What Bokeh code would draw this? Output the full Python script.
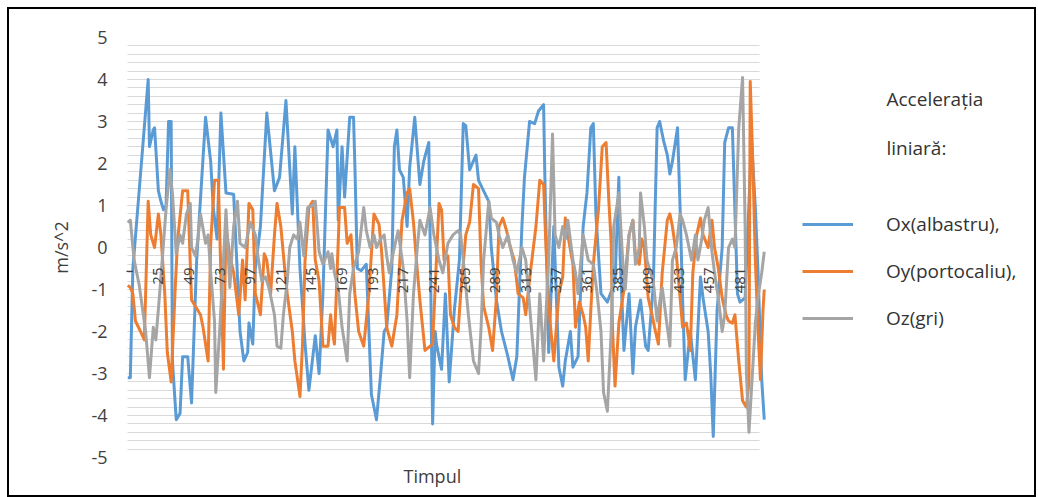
import math
from bokeh.plotting import figure
from bokeh.models import (Range1d, SingleIntervalTicker, Legend, LegendItem, Label,
                          Title)
from bokeh.core.properties import value
from bokeh.embed import file_html
from bokeh.resources import INLINE

# ---------------- data ----------------
x_tick_labels = [1, 25, 49, 73, 97, 121, 145, 169, 193, 217, 241, 265, 289,
                 313, 337, 361, 385, 409, 433, 457, 481]
y_tick_labels = [-5, -4, -3, -2, -1, 0, 1, 2, 3, 4, 5]

ox_idx = [1, 3, 5, 9, 13, 17, 18, 21, 22, 25, 27, 29, 31, 33, 35, 36, 39, 42, 44, 48,
          51, 55, 62, 66, 68, 71, 74, 78, 84, 89, 92, 95, 96, 99, 101, 105, 110, 116,
          120, 125, 130, 132, 136, 140, 143, 148, 151, 154, 158, 162, 165, 166, 169,
          171, 175, 178, 179, 181, 184, 188, 192, 196, 199, 202, 204, 208, 210, 212,
          214, 217, 220, 222, 226, 230, 233, 237, 240, 242, 243, 247, 250, 253, 257,
          261, 264, 266, 269, 274, 276, 284, 286, 290, 294, 299, 303, 306, 310, 312,
          316, 320, 323, 327, 328, 331, 335, 339, 342, 344, 348, 350, 354, 358, 361,
          364, 366, 368, 372, 377, 383, 386, 387, 390, 394, 397, 399, 403, 407, 409,
          413, 416, 418, 421, 424, 426, 428, 432, 434, 436, 438, 442, 446, 450, 452,
          456, 458, 460, 463, 467, 469, 472, 475, 476, 479, 481, 485, 490, 493, 495,
          498, 500]
ox_val = [-3.1, -3.1, -0.5, 1.0, 2.5, 4.0, 2.4, 2.8, 2.85, 1.35, 1.1, 0.9, 1.0, 3.0, 3.0,
          -2.7, -4.1, -3.95, -2.6, -2.6, -3.7, -0.3, 3.1, 2.05, 0.95, 0.2, 3.2, 1.3,
          1.27, -2.0, -2.7, -2.5, -1.8, -2.3, -0.5, 0.5, 3.2, 1.35, 1.67, 3.5, 0.8,
          2.4, -0.5, -2.3, -3.4, -2.1, -3.0, -1.1, 2.8, 2.4, 2.8, 0.65, 2.4, 1.2, 3.1,
          3.1, 2.0, -0.5, -0.55, -0.4, -3.5, -4.1, -3.1, -2.0, -1.9, -0.5, 2.4, 2.8,
          1.85, 1.67, 0.5, 1.9, 3.1, 1.5, 2.05, 2.5, -4.2, -2.0, -2.3, -2.9, -1.1,
          -3.2, -1.5, -0.3, 2.95, 2.9, 1.85, 2.2, 1.6, 1.1, 0.0, -1.25, -2.0, -2.6,
          -3.15, -2.6, 0.5, 1.67, 3.0, 2.95, 3.25, 3.4, 1.67, -2.5, 0.5, -2.85, -3.3,
          -2.7, -2.0, -2.85, -2.6, 0.5, 1.3, 2.85, 2.95, 0.8, -1.1, -1.3, -0.8, 1.67,
          -0.2, -2.45, -1.1, -3.0, -1.9, -1.25, -2.35, -2.45, -0.9, 2.85, 3.0, 2.55,
          2.2, 1.75, 2.05, 2.85, 0.95, -1.25, -3.15, -2.0, -3.15, -0.7, -1.2, -2.0,
          -3.0, -4.5, -1.5, 0.0, 2.5, 2.85, 2.85, 1.85, -1.1, -1.3, -1.2, 2.55, 0.95,
          -0.5, -3.15, -4.1]

oy_idx = [1, 3, 5, 7, 11, 14, 17, 19, 22, 25, 27, 30, 32, 35, 38, 40, 44, 48, 51, 54,
          58, 60, 64, 66, 69, 72, 76, 78, 81, 84, 88, 91, 93, 96, 99, 101, 105, 108,
          110, 113, 116, 118, 121, 124, 126, 130, 132, 136, 138, 140, 143, 146, 148,
          151, 154, 158, 160, 161, 163, 167, 171, 173, 176, 179, 182, 186, 190, 194,
          198, 200, 204, 208, 212, 216, 220, 222, 225, 227, 230, 234, 238, 240, 245,
          247, 249, 252, 254, 257, 260, 262, 266, 269, 272, 276, 278, 280, 284, 287,
          290, 292, 295, 298, 300, 304, 307, 311, 313, 317, 321, 324, 327, 329, 332,
          335, 339, 342, 344, 346, 350, 352, 355, 358, 360, 362, 364, 366, 370, 373,
          376, 378, 380, 381, 383, 386, 390, 394, 397, 399, 402, 404, 406, 409, 412,
          414, 417, 420, 424, 426, 428, 431, 434, 436, 439, 442, 444, 447, 450, 452,
          456, 459, 461, 464, 467, 470, 472, 475, 477, 480, 483, 486, 488, 489, 491,
          493, 495, 497, 499, 500]
oy_val = [-0.9, -0.95, -1.1, -1.75, -2.0, -2.2, 1.1, 0.3, 0.0, 0.8, 0.3, -1.1, -2.5,
          -3.2, -1.1, 0.15, 1.35, 1.35, -1.25, -1.4, -1.6, -1.9, -2.7, 0.1, 1.6, 1.6,
          -2.9, 0.5, -0.2, -0.6, -1.6, -0.3, -1.25, 1.05, 0.9, -1.1, -1.6, -0.15,
          -0.3, -1.1, 0.3, 1.05, 0.5, -0.5, -1.1, -2.0, -2.7, -3.55, -2.3, -0.3,
          0.95, 1.1, -0.3, -0.8, -2.35, -2.35, -1.6, -1.9, -2.3, 0.95, 0.95, 0.1,
          0.3, -1.1, -2.0, -2.35, -1.1, 0.8, 0.55, -0.1, -1.9, -2.35, -1.6, 0.65,
          1.3, 1.4, 0.6, -0.2, -1.25, -2.45, -2.35, -2.3, 1.05, 0.9, -0.3, -0.2,
          -1.6, -1.9, -2.0, -1.1, 0.3, 0.6, 1.5, 1.4, -0.4, -1.4, -1.9, -2.45, -1.2,
          0.5, 0.7, 0.4, 0.1, -0.3, -1.1, -1.2, -1.6, -0.5, 0.5, 1.6, 1.5, -0.1,
          -1.75, -2.7, -1.1, -0.7, 0.7, 0.3, -0.4, -1.9, -1.3, -1.6, -1.9, -2.7,
          -1.5, -0.4, 0.9, 2.4, 2.5, 1.2, 0.1, -1.9, -3.3, -1.8, -1.0, 0.3, 0.65,
          -0.2, -0.4, 0.2, 0.0, -1.2, -1.6, -1.9, -2.3, -0.6, 0.65, 0.8, 0.5, -0.15,
          -1.2, -1.9, -1.8, -2.45, -0.6, 0.3, 0.7, 0.3, 0.0, 0.65, 0.0, -0.5, -1.2,
          -1.6, -1.75, -1.8, -1.6, -2.7, -3.65, -3.8, -3.2, 3.95, 2.05, -0.3, -1.9,
          -3.15, -1.5, -1.0]

oz_idx = [1, 3, 6, 10, 15, 18, 21, 23, 26, 29, 31, 34, 36, 39, 42, 44, 47, 50, 51, 54,
          56, 58, 62, 64, 66, 69, 70, 73, 76, 78, 81, 84, 87, 89, 93, 97, 101, 103,
          106, 109, 112, 116, 118, 121, 123, 126, 128, 131, 134, 136, 139, 142, 146,
          148, 151, 154, 158, 160, 161, 163, 166, 169, 173, 175, 178, 182, 186, 188,
          191, 194, 196, 199, 202, 204, 206, 210, 213, 217, 220, 222, 225, 228, 230,
          234, 238, 241, 243, 245, 248, 252, 256, 260, 262, 265, 268, 272, 276, 278,
          280, 284, 286, 290, 292, 295, 299, 303, 306, 310, 313, 317, 321, 324, 327,
          331, 334, 336, 339, 342, 344, 346, 350, 352, 354, 358, 360, 362, 366, 369,
          372, 374, 377, 380, 382, 386, 389, 391, 394, 397, 399, 402, 403, 406, 408,
          411, 413, 416, 418, 420, 424, 426, 428, 431, 434, 436, 439, 443, 446, 448,
          451, 453, 456, 459, 461, 464, 467, 469, 472, 475, 477, 480, 483, 485, 486,
          488, 491, 493, 495, 498, 500]
oz_val = [0.6, 0.65, -0.3, -0.9, -2.0, -3.1, -1.9, -2.2, -1.1, 0.1, 0.9, 1.85, 1.3,
          -0.15, 0.3, 0.1, 0.8, 1.05, 0.0, -0.2, 0.2, 0.8, 0.1, 0.3, -0.6, -1.75,
          -3.45, -2.0, -0.3, 0.9, -0.95, 0.5, 1.1, 0.1, 0.0, 0.6, 0.3, -0.2, -0.8,
          -0.7, -1.0, -1.6, -2.35, -2.4, -1.6, -0.8, 0.0, 0.3, 0.2, 0.6, -0.2, 0.95,
          1.0, 1.1, -0.1, -0.4, -0.1, -0.5, -0.15, -0.6, -1.0, -1.9, -2.7, -1.1,
          -0.5, -0.1, 0.95, 0.4, 0.0, 0.3, 0.0, 0.2, 0.3, -0.2, -0.6, 0.0, 0.4, -0.5,
          -1.75, -3.1, -1.1, 0.0, 0.65, 0.3, 0.95, 0.3, 0.0, -0.3, -0.6, 0.1, 0.3,
          0.4, 0.3, -0.6, -1.6, -2.7, -3.0, -1.9, -0.3, 1.1, 0.7, 0.6, 0.3, 0.0, 0.3,
          -0.3, -0.6, 0.0, -0.3, -1.75, -3.15, -1.1, -2.7, -0.3, 2.7, 0.3, 0.0, 0.5,
          0.2, 0.65, -0.3, -0.6, -1.1, 0.3, 0.0, -0.3, -0.4, -1.1, -2.0, -3.45, -3.9,
          -2.0, 0.5, 1.3, -0.3, -1.0, 0.3, 0.65, -0.4, 0.0, 1.3, 0.5, -0.3, -0.6,
          -0.8, -1.75, -1.3, -0.95, -1.9, -2.35, -0.3, 0.0, 0.8, 0.65, 0.3, -0.3,
          0.3, -0.3, 0.2, 0.65, 0.95, -0.1, -0.6, -1.2, -2.0, -1.6, 0.0, 0.2, 0.0,
          2.85, 4.05, 0.5, -3.0, -4.4, -2.85, -1.8, -1.2, -0.6, -0.1]

series_names = ["Ox(albastru),", "Oy(portocaliu),", "Oz(gri)"]
series_colors = ["#5B9BD5", "#ED7D31", "#A5A5A5"]
legend_title_lines = ["Accelerația", "liniară:"]
x_axis_title = "Timpul"
y_axis_title = "m/s^2"

FONT = "Open Sans"
TXT = "#404040"

p = figure(width=1029, height=490, x_range=Range1d(0, 715), y_range=Range1d(-5, 5),
           output_backend="svg", toolbar_location=None,
           min_border_left=117, min_border_right=0, min_border_top=28,
           min_border_bottom=42)
p.styles = {"border": "2px solid black", "margin-left": "7px", "margin-top": "7px",
            "box-sizing": "border-box"}
p.outline_line_color = None
p.background_fill_color = "white"
p.border_fill_color = "white"

# grid
p.xgrid.visible = False
p.yaxis.ticker = SingleIntervalTicker(interval=1, num_minor_ticks=5)
p.ygrid.grid_line_color = "#d9d9d9"
p.ygrid.minor_grid_line_color = "#d9d9d9"
p.ygrid.grid_line_width = 1
p.ygrid.minor_grid_line_width = 1
p.ygrid.cross_bounds = (0.5, 496)

# y axis
p.yaxis.axis_line_color = None
p.yaxis.major_tick_line_color = None
p.yaxis.minor_tick_line_color = None
p.yaxis.major_tick_out = 0
p.yaxis.minor_tick_out = 0
p.yaxis.major_label_standoff = 19
p.yaxis.major_label_overrides = {t: str(t) for t in y_tick_labels}
p.yaxis.major_label_text_font = FONT
p.yaxis.major_label_text_font_size = "18px"
p.yaxis.major_label_text_color = TXT
p.yaxis.axis_label = y_axis_title
p.yaxis.axis_label_text_font = FONT
p.yaxis.axis_label_text_font_size = "18px"
p.yaxis.axis_label_text_font_style = "normal"
p.yaxis.axis_label_text_color = TXT
p.yaxis.axis_label_standoff = 15

# x axis: hidden; title drawn below, tick labels drawn along y = 0
p.xaxis.visible = False
p.add_layout(Title(text=x_axis_title, align="left", offset=277, standoff=8,
                   text_font=FONT, text_font_size="18px", text_font_style="normal",
                   text_color=TXT), "below")

renderers = []
for xs, ys, c in [(ox_idx, ox_val, series_colors[0]),
                  (oy_idx, oy_val, series_colors[1]),
                  (oz_idx, oz_val, series_colors[2])]:
    r = p.line(xs, ys, line_color=c, line_width=3, line_join="round")
    renderers.append(r)

p.text(x=x_tick_labels, y=[0] * len(x_tick_labels),
       text=[str(t) for t in x_tick_labels], angle=math.pi / 2,
       text_align="right", text_baseline="middle", y_offset=20,
       text_font=value(FONT), text_font_size="15px", text_color=TXT)

legend = Legend(items=[LegendItem(label=n, renderers=[r])
                       for n, r in zip(series_names, renderers)],
                location=(676, 126), orientation="vertical",
                border_line_color=None, background_fill_alpha=0,
                padding=0, margin=0, spacing=21, glyph_width=51,
                glyph_height=24, label_height=24, label_standoff=33,
                label_text_font=FONT, label_text_font_size="19px",
                label_text_color="#333333")
p.add_layout(legend)

for txt, yy in zip(legend_title_lines, [359, 310]):
    p.add_layout(Label(x=760, y=yy, x_units="screen", y_units="screen", text=txt,
                       text_baseline="middle", text_font=FONT,
                       text_font_size="19px", text_color="#333333"))

open("out.html", "w").write(file_html(p, INLINE))
